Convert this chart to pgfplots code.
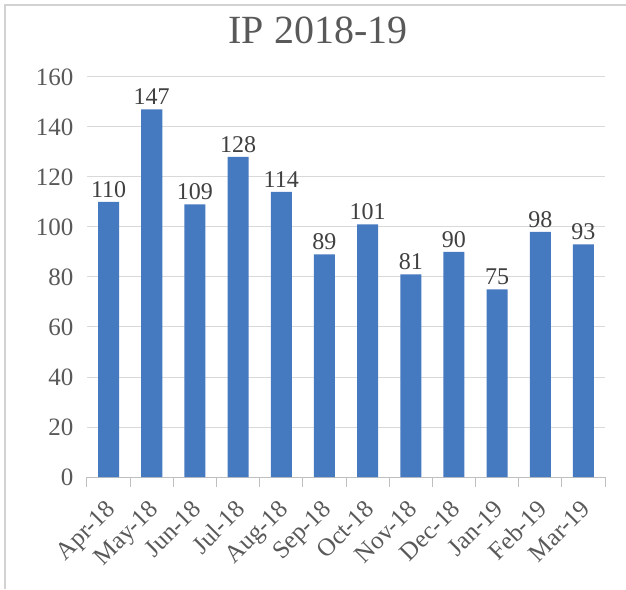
\documentclass[border=0pt]{standalone}
\usepackage{fontspec}
\setmainfont{Liberation Serif}
\usepackage{pgfplots}
\pgfplotsset{compat=1.18}

\definecolor{barblue}{RGB}{70,122,192}
\definecolor{gridgray}{RGB}{217,217,217}
\definecolor{axisgray}{RGB}{191,191,191}
\definecolor{framegray}{RGB}{210,210,210}
\definecolor{textgray}{RGB}{89,89,89}
\definecolor{labelgray}{RGB}{64,64,64}

\begin{document}
\begin{tikzpicture}[x=1pt,y=1pt]
    % page size and chart frame
    \path[use as bounding box] (-87,-112) rectangle (539,477);
    \draw[framegray, line width=1.2pt] (-82,-112) -- (-82,472) -- (539,472);
    \node[font=\fontsize{40}{44}\selectfont, text=textgray] at (231,447) {IP 2018-19};

    \begin{axis}[
        at={(0,0)}, anchor=south west,
        scale only axis,
        width=518pt, height=400pt,
        xmin=-0.5, xmax=11.5,
        ymin=0, ymax=160,
        ytick={0,20,...,160},
        xtick={0,...,11},
        xticklabels={Apr-18,May-18,Jun-18,Jul-18,Aug-18,Sep-18,Oct-18,Nov-18,Dec-18,Jan-19,Feb-19,Mar-19},
        minor xtick={-0.5,0.5,...,11.5},
        axis x line*=bottom,
        axis y line*=left,
        y axis line style={draw=none},
        x axis line style={draw=axisgray, line width=1pt},
        major tick length=0pt,
        minor tick length=10pt,
        tick align=outside,
        minor x tick style={draw=axisgray, line width=1pt},
        ymajorgrids,
        grid style={draw=gridgray, line width=1pt},
        /pgf/number format/assume math mode=true,
        tick label style={font=\fontsize{25}{27}\selectfont, text=textgray},
        y tick label style={xshift=-10pt},
        x tick label style={font=\fontsize{25}{27}\selectfont, xshift=-4pt, yshift=-20pt, rotate=45, anchor=north east, inner sep=1pt},
        ybar, bar width=21pt,
        nodes near coords,
        nodes near coords style={font=\fontsize{24}{26}\selectfont, text=labelgray, anchor=south, yshift=1pt},
        clip=false,
    ]
    \addplot[fill=barblue, draw=none] coordinates {
        (0,110) (1,147) (2,109) (3,128) (4,114) (5,89)
        (6,101) (7,81) (8,90) (9,75) (10,98) (11,93)
    };
    \end{axis}
\end{tikzpicture}
\end{document}
